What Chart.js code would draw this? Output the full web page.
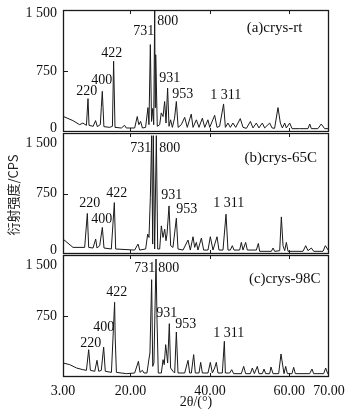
<!DOCTYPE html>
<html lang="zh-CN">
<head>
    <meta charset="UTF-8">
    <title>衍射图谱 crys</title>
    <script src="https://cdn.jsdelivr.net/npm/chart.js"></script>
    <style>
        html, body { margin: 0; padding: 0; background: #fff; }
        .wrap { position: relative; width: 346px; height: 416px; overflow: hidden; }
        .wrap canvas { position: absolute; left: 0; width: 346px; }
        #chartA { top: 0px; height: 133px; }
        #chartB { top: 133px; height: 122px; }
        #chartC { top: 254px; height: 162px; }
    </style>
</head>
<body>
    <div class="wrap">
        <canvas id="chartA" width="346" height="133"></canvas>
        <canvas id="chartB" width="346" height="122"></canvas>
        <canvas id="chartC" width="346" height="162"></canvas>
    </div>

    <script>
        // axis ticks and texts
        const xTicks = [3, 20, 40, 60, 70];
        const yTicks = [0, 750, 1500];
        const peakHkl = ['220', '400', '422', '731', '800', '931', '953', '1 311'];
        const panelNames = ['(a)crys-rt', '(b)crys-65C', '(c)crys-98C'];

        // (a) crys-rt : 2theta / intensity (CPS)
        const twoThetaA = [3.0, 5.5, 7.2, 8.0, 8.9, 9.3, 9.55, 10.6, 11.2, 11.65, 12.4, 12.65, 12.9, 13.3, 14.75, 15.45, 15.75, 16.1,
            17.7, 18.5, 18.95, 21.05, 21.7, 22.1, 22.55, 23.0, 23.8, 24.4, 24.65, 25.0, 25.3, 25.6, 25.85, 26.1, 26.22, 26.35,
            26.75, 27.35, 27.75, 28.2, 28.6, 28.95, 29.35, 29.7, 30.1, 30.55, 31.1, 31.55, 32.0, 32.8, 33.65, 34.3, 35.3, 35.75,
            36.6, 37.25, 38.1, 38.7, 39.5, 39.95, 41.2, 41.8, 42.45, 43.45, 43.9, 44.55, 45.15, 45.8, 46.5, 47.65, 48.35, 49.2,
            50.2, 50.85, 51.7, 52.35, 53.2, 53.8, 55.05, 55.65, 56.3, 57.15, 57.75, 58.25, 58.85, 59.25, 60.1, 60.7, 62.6,
            64.7, 65.15, 65.55, 67.2, 68.05, 68.9, 70.0];
        const intensityA = [193, 140, 90, 110, 82, 410, 82, 70, 140, 66, 90, 300, 500, 66, 57, 70, 870, 57,
            49, 82, 49, 49, 190, 90, 130, 49, 57, 300, 90, 1075, 130, 290, 90, 1492, 300, 950,
            70, 90, 235, 190, 375, 110, 540, 70, 150, 57, 170, 375, 57, 90, 180, 57, 220, 57,
            150, 57, 170, 57, 150, 57, 205, 57, 70, 345, 57, 110, 57, 110, 57, 165, 57, 45,
            130, 50, 110, 50, 110, 50, 110, 50, 45, 300, 110, 50, 110, 50, 110, 41, 41,
            41, 98, 41, 41, 98, 41, 41];

        // (b) crys-65C
        const twoThetaB = [3.0, 5.52, 8.46, 9.13, 9.47, 10.56, 11.23, 11.56, 12.24, 12.91, 13.33, 15.17, 15.93, 16.27, 21.05,
            21.89, 22.31, 23.82, 24.33, 24.66, 25.0, 25.33, 25.59, 25.75, 26.09, 26.51, 26.85, 27.35, 27.77, 28.19, 28.61,
            28.94, 29.2, 29.7, 30.12, 30.7, 31.55, 31.97, 33.23, 34.49, 35.07, 35.75, 36.17, 36.59, 37.0, 37.85, 38.43,
            39.52, 40.11, 40.78, 41.79, 42.29, 43.3, 44.06, 44.56, 45.15, 45.65, 46.07, 47.5, 47.92, 48.34, 49.01, 49.43,
            51.7, 52.2, 52.54, 55.48, 55.9, 56.32, 57.58, 58.0, 58.42, 58.84, 59.26, 59.68, 63.45, 64.13, 64.71, 65.55,
            66.14, 68.49, 69.08, 70.0];
        const intensityB = [185, 82, 82, 503, 82, 74, 185, 74, 103, 329, 74, 62, 637, 62, 49,
            123, 49, 62, 247, 205, 699, 1467, 123, 1467, 62, 1467, 62, 62, 349, 205, 308,
            164, 247, 596, 103, 82, 444, 62, 49, 173, 49, 214, 82, 144, 49, 197, 49,
            49, 214, 49, 214, 49, 49, 493, 49, 49, 103, 49, 49, 144, 49, 144, 49,
            49, 131, 33, 33, 74, 33, 41, 460, 103, 41, 144, 33, 33, 103, 41, 74,
            33, 33, 103, 33];

        // (c) crys-98C
        const twoThetaC = [3.0, 4.7, 6.4, 8.0, 8.9, 9.47, 9.9, 11.0, 11.56, 12.0, 12.65, 13.24, 13.65, 15.2, 16.0, 16.15, 16.45,
            18.95, 21.05, 22.0, 22.4, 23.0, 23.4, 24.15, 24.65, 24.9, 25.33, 25.6, 25.9, 26.43, 26.68, 27.0, 27.77, 28.2,
            28.5, 28.86, 29.1, 29.36, 29.78, 30.1, 30.7, 31.13, 31.55, 31.97, 33.65, 34.49, 34.9, 35.33, 35.91, 36.33,
            37.26, 37.68, 38.1, 39.52, 40.11, 40.62, 41.2, 41.62, 42.04, 43.13, 43.64, 43.89, 44.98, 45.49, 45.99, 47.92,
            48.51, 49.01, 50.19, 50.69, 51.2, 51.95, 52.37, 53.21, 53.63, 54.05, 55.06, 55.39, 55.9, 57.32, 57.91, 58.25,
            58.67, 59.09, 59.51, 60.68, 61.1, 61.52, 65.13, 65.72, 66.14, 68.66, 69.16, 69.67, 70.0];
        const intensityC = [172, 152, 111, 90, 82, 336, 82, 70, 205, 70, 82, 369, 70, 57, 918, 480, 57,
            41, 49, 193, 57, 82, 49, 49, 221, 295, 1197, 131, 172, 1451, 705, 49, 49, 213,
            152, 398, 295, 172, 656, 111, 70, 49, 553, 49, 49, 205, 49, 49, 275, 49,
            49, 180, 49, 49, 180, 49, 111, 180, 49, 49, 439, 49, 49, 90, 41, 41,
            131, 41, 41, 111, 41, 131, 41, 41, 98, 41, 41, 123, 41, 41, 283, 172,
            41, 131, 41, 41, 119, 41, 41, 98, 41, 41, 111, 41, 41];

        // where the hkl labels and panel names sit, in axis units
        const labelSpots = [
            { peaks: [[8.97, 504], [12.75, 640], [15.27, 972], [23.33, 1242], [29.37, 1365], [29.88, 664], [33.15, 467], [43.98, 455]], name: [56.3, 1279] },
            { peaks: [[9.73, 627], [12.75, 430], [16.53, 750], [22.57, 1304], [29.88, 1304], [30.38, 726], [34.16, 553], [44.74, 627]], name: [57.84, 1193] },
            { peaks: [[9.98, 418], [13.25, 615], [16.53, 1045], [23.58, 1340], [29.62, 1340], [29.12, 787], [33.91, 652], [44.74, 541]], name: [58.85, 1205] }
        ];

        const serif = '"Liberation Serif", "Times New Roman", serif';
        const ink = '#1a1a1a';

        function fmt(v) {
            return String(v).replace(/\B(?=(\d{3})+(?!\d))/g, ' ');
        }

        function decor(idx, opts) {
            return {
                id: 'decor' + idx,
                afterDraw(chart) {
                    const { ctx, chartArea: a, scales: { x, y } } = chart;
                    ctx.save();
                    ctx.strokeStyle = ink;
                    ctx.lineWidth = 1.3;
                    ctx.strokeRect(a.left + 0.5, a.top + 0.5, a.right - a.left - 1, a.bottom - a.top - 1);

                    // inner tick marks
                    ctx.lineWidth = 1;
                    ctx.beginPath();
                    xTicks.slice(1, -1).forEach(v => {
                        const px = Math.round(x.getPixelForValue(v)) + 0.5;
                        ctx.moveTo(px, a.bottom); ctx.lineTo(px, a.bottom - 4);
                        ctx.moveTo(px, a.top); ctx.lineTo(px, a.top + 4);
                    });
                    const mid = Math.round(y.getPixelForValue(yTicks[1])) + 0.5;
                    ctx.moveTo(a.left, mid); ctx.lineTo(a.left + 5, mid);
                    ctx.stroke();

                    // y tick labels
                    ctx.fillStyle = '#111';
                    ctx.font = '14px ' + serif;
                    ctx.textAlign = 'right';
                    ctx.textBaseline = 'middle';
                    yTicks.forEach(v => {
                        if (v === 0 && !opts.zero) return;
                        let py = y.getPixelForValue(v);
                        if (v === yTicks[yTicks.length - 1]) py += opts.topNudge;
                        if (v === 0) py -= 4;
                        ctx.fillText(fmt(v), a.left - 6, py);
                    });

                    // hkl labels
                    ctx.textAlign = 'center';
                    const spots = labelSpots[idx];
                    peakHkl.forEach((t, i) => {
                        const [lx, ly] = spots.peaks[i];
                        ctx.fillText(t, x.getPixelForValue(lx), y.getPixelForValue(ly));
                    });
                    ctx.font = '15px ' + serif;
                    ctx.fillText(panelNames[idx], x.getPixelForValue(spots.name[0]), y.getPixelForValue(spots.name[1]));

                    // y axis title, across the middle panel
                    if (opts.yTitle) {
                        ctx.translate(13, 62);
                        ctx.rotate(-Math.PI / 2);
                        ctx.font = '13px "Noto Sans CJK SC", sans-serif';
                        ctx.fillStyle = '#222';
                        ctx.fillText('衍射强度/CPS', 0, 0);
                    }
                    ctx.restore();
                }
            };
        }

        function makePanel(id, idx, xs, ys, opts) {
            return new Chart(document.getElementById(id), {
                type: 'line',
                data: {
                    datasets: [{
                        data: xs.map((v, i) => ({ x: v, y: ys[i] })),
                        borderColor: ink,
                        borderWidth: 1,
                        pointRadius: 0,
                        tension: 0,
                        fill: false
                    }]
                },
                options: {
                    responsive: false,
                    maintainAspectRatio: false,
                    animation: false,
                    events: [],
                    layout: { padding: { left: 63, right: 17, top: opts.padTop, bottom: opts.padBottom } },
                    plugins: { legend: { display: false }, tooltip: { enabled: false } },
                    scales: {
                        x: {
                            type: 'linear',
                            min: xTicks[0],
                            max: xTicks[xTicks.length - 1],
                            display: !!opts.showX,
                            grid: { display: false },
                            border: { display: false },
                            afterBuildTicks: s => { s.ticks = xTicks.map(v => ({ value: v })); },
                            afterFit: s => {
                                s.height = opts.showX ? 39 : 0;
                                s.paddingLeft = 0;
                                s.paddingRight = 0;
                            },
                            ticks: {
                                autoSkip: false,
                                maxRotation: 0,
                                padding: -2,
                                color: '#111',
                                font: { family: serif, size: 14 },
                                callback: v => v.toFixed(2)
                            },
                            title: {
                                display: true,
                                text: '2θ/(°)',
                                color: '#111',
                                font: { family: serif, size: 14 },
                                padding: { top: 0, bottom: 5 }
                            }
                        },
                        y: {
                            min: yTicks[0],
                            max: yTicks[yTicks.length - 1],
                            display: false
                        }
                    }
                },
                plugins: [decor(idx, opts)]
            });
        }

        makePanel('chartA', 0, twoThetaA, intensityA, { padTop: 10, padBottom: 1, zero: true, topNudge: 3 });
        makePanel('chartB', 1, twoThetaB, intensityB, { padTop: 0, padBottom: 1, zero: true, topNudge: 10, yTitle: true });
        makePanel('chartC', 2, twoThetaC, intensityC, { padTop: 1, padBottom: 0, zero: false, topNudge: 10, showX: true });
    </script>
</body>
</html>
